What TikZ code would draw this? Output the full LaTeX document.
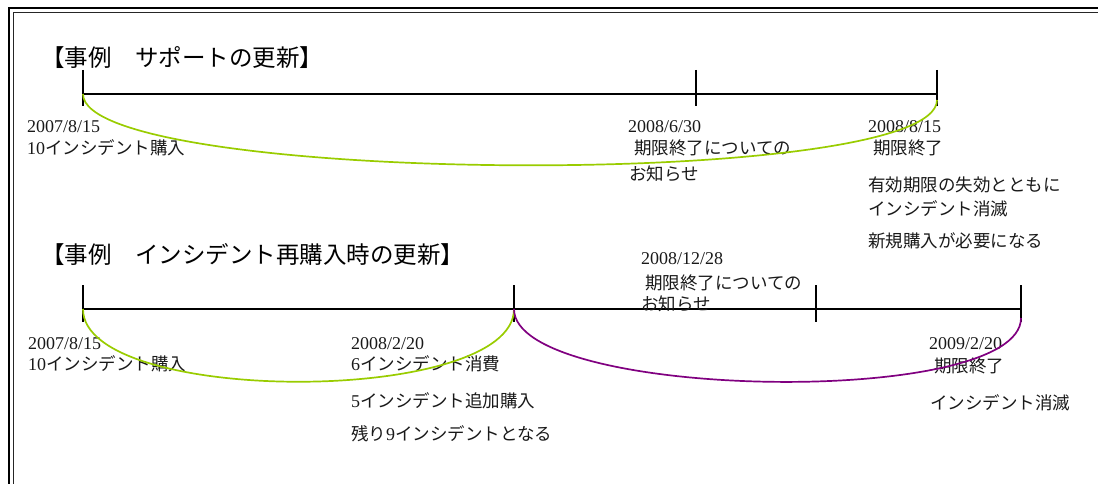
\documentclass[tikz,border=0pt]{standalone}
\usepackage{fontspec}
\usetikzlibrary{calc}
\setmainfont{Liberation Serif}
\newfontfamily\jpfont{Noto Sans CJK JP}
\newcommand\jtext[1]{{\jpfont\fontsize{17.5}{20}\selectfont #1}}
\definecolor{lgreen}{RGB}{153,204,0}
\definecolor{vpurple}{RGB}{128,0,128}
\definecolor{txt}{RGB}{25,25,25}
\begin{document}
\begin{tikzpicture}[x=1pt,y=-1pt,
  lbl/.style={anchor=base west, inner sep=0pt, font=\fontsize{18}{20}\selectfont, text=txt},
  ttl/.style={anchor=base west, inner sep=0pt, font=\jpfont\fontsize{23.5}{26}\selectfont, text=black},
  axisline/.style={line width=1.9pt, black},
  tickline/.style={line width=1.9pt, black},
  arcg/.style={line width=1.7pt, lgreen},
  arcp/.style={line width=1.7pt, vpurple},
  frameouter/.style={line width=2pt, black},
  frameinner/.style={line width=1.3pt, black!85}]
\useasboundingbox (0,0) rectangle (1098,484);
% frame
\draw[frameouter] (9,484) -- (9,8) -- (1098,8);
\draw[frameinner] (13.5,484) -- (13.5,12.5) -- (1098,12.5);

% ---------- case 1 ----------
\node[ttl] (t1) at (41,67) {【事例　サポートの更新】};
\coordinate (a1) at (83,94);
\coordinate (a2) at (696,94);
\coordinate (a3) at (937,94);
\coordinate (a1t) at (83,70); \coordinate (a1b) at (83,106);
\coordinate (a2t) at (696,70); \coordinate (a2b) at (696,106);
\coordinate (a3t) at (937,70); \coordinate (a3b) at (937,106);
\coordinate (g1e) at (937,100);
\draw[axisline] (a1) -- (a3);
\draw[tickline] (a1t) -- (a1b);
\draw[tickline] (a2t) -- (a2b);
\draw[tickline] (a3t) -- (a3b);

\node[lbl] (l1a) at (27,133) {2007/8/15};
\node[lbl] (l1b) at (27,155) {10\jtext{インシデント購入}};
\node[lbl] (l1c) at (628,133) {2008/6/30};
\node[lbl] (l1d) at (634,154) {\jtext{期限終了についての}};
\node[lbl] (l1e) at (629,180) {\jtext{お知らせ}};
\node[lbl] (l1f) at (868,133) {2008/8/15};
\node[lbl] (l1g) at (873,155) {\jtext{期限終了}};
\node[lbl] (l1h) at (868,192) {\jtext{有効期限の失効とともに}};
\node[lbl] (l1i) at (868,215) {\jtext{インシデント消滅}};
\node[lbl] (l1j) at (868,247) {\jtext{新規購入が必要になる}};

\draw[arcg] (a1) .. controls ($(a1)+(0,91)$) and ($(g1e)+(0,91)$) .. (g1e);

% ---------- case 2 ----------
\node[ttl] (t2) at (41,263) {【事例　インシデント再購入時の更新】};
\coordinate (b1) at (83,309);
\coordinate (b2) at (514,309);
\coordinate (b3) at (816,309);
\coordinate (b4) at (1021,309);
\coordinate (b1t) at (83,285); \coordinate (b1b) at (83,322);
\coordinate (b2t) at (514,285); \coordinate (b2b) at (514,322);
\coordinate (b3t) at (816,285); \coordinate (b3b) at (816,322);
\coordinate (b4t) at (1021,285); \coordinate (b4b) at (1021,322);
\coordinate (p1e) at (1021,318);
\draw[axisline] (b1) -- (b4);
\draw[tickline] (b1t) -- (b1b);
\draw[tickline] (b2t) -- (b2b);
\draw[tickline] (b3t) -- (b3b);
\draw[tickline] (b4t) -- (b4b);

\node[lbl] (l2a) at (28,349) {2007/8/15};
\node[lbl] (l2b) at (28,370) {10\jtext{インシデント購入}};
\node[lbl] (l2c) at (351,349) {2008/2/20};
\node[lbl] (l2d) at (351,370) {6\jtext{インシデント消費}};
\node[lbl] (l2e) at (351,407) {5\jtext{インシデント追加購入}};
\node[lbl] (l2f) at (351,440) {\jtext{残り}9\jtext{インシデントとなる}};
\node[lbl] (l2g) at (641,264) {2008/12/28};
\node[lbl] (l2h) at (645,289) {\jtext{期限終了についての}};
\node[lbl] (l2i) at (641,310) {\jtext{お知らせ}};
\node[lbl] (l2j) at (929,349) {2009/2/20};
\node[lbl] (l2k) at (934,372) {\jtext{期限終了}};
\node[lbl] (l2l) at (930,409) {\jtext{インシデント消滅}};

\draw[arcg] (b1) .. controls ($(b1)+(0,97)$) and ($(b2)+(0,97)$) .. (b2);
\draw[arcp] (b2) .. controls ($(b2)+(0,91)$) and ($(p1e)+(0,91)$) .. (p1e);
\end{tikzpicture}
\end{document}
